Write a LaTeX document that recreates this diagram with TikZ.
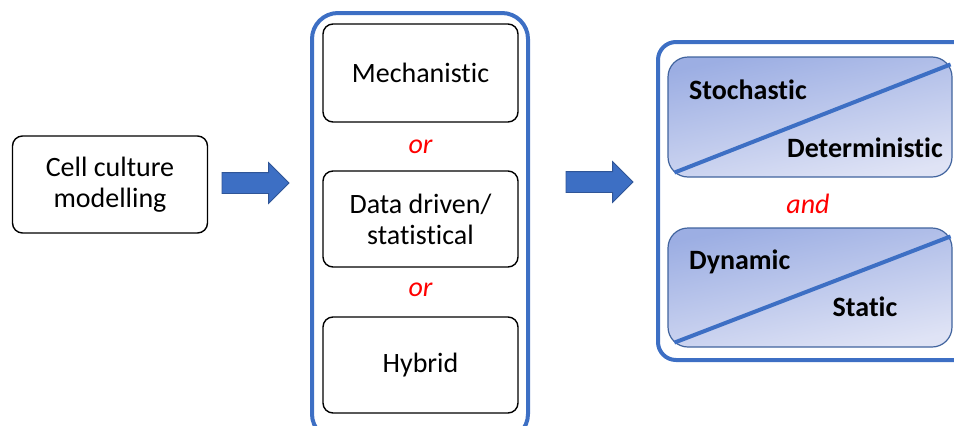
\documentclass[tikz,border=0pt]{standalone}
\usepackage{fontspec}
\setmainfont{Carlito}[Ligatures={NoCommon,NoDiscretionary,NoRare}]
\usetikzlibrary{shapes.arrows,calc}
\definecolor{cblue}{HTML}{3D6FC4}
\definecolor{aedge}{HTML}{2F5597}
\definecolor{gdark}{HTML}{9CAEE3}
\definecolor{glight}{HTML}{DFE3F5}
\definecolor{gedge}{HTML}{41649E}
\definecolor{orred}{HTML}{FF0000}
\tikzset{
  whitebox/.style={draw=black, line width=1.4pt, rounded corners=10pt, fill=white,
    minimum width=195pt, align=center, inner sep=0pt,
    font=\fontsize{28}{31}\selectfont},
  container/.style={draw=cblue, line width=4pt, rounded corners=26pt},
  bigarrow/.style={single arrow, draw=aedge, fill=cblue, line width=0.8pt,
    minimum height=67pt, single arrow head extend=10pt,
    single arrow tip angle=90, inner xsep=0pt, inner ysep=10pt, outer sep=0pt, anchor=tip},
  gradbox/.style={draw=gedge, line width=1.2pt, rounded corners=20pt,
    top color=gdark, bottom color=glight, shading angle=12,
    minimum width=284pt, minimum height=120pt, inner sep=0pt},
  diag/.style={draw=cblue, line width=4pt},
  conj/.style={text=orred, font=\fontsize{28}{31}\selectfont\itshape, inner sep=0pt},
  blabel/.style={font=\fontsize{28}{31}\selectfont\bfseries, inner sep=0pt},
}
\begin{document}
\begin{tikzpicture}[x=1pt,y=-1pt]
\useasboundingbox (0,0) rectangle (954,426);
\clip (0,0) rectangle (954,426);
% left
\node[whitebox, minimum height=97pt] (cell) at (110,184.5) {Cell culture\\modelling};
\node[bigarrow] (a1) at (289,183) {};
% middle group
\draw[container] (312,13) rectangle (528,440);
\node[whitebox, minimum height=98pt] (mech) at (420.5,73) {Mechanistic};
\node[conj] (or1) at (420.5,147) {or};
\node[whitebox, minimum height=96pt] (data) at (420.5,219) {Data driven/\\statistical};
\node[conj] (or2) at (420.5,290) {or};
\node[whitebox, minimum height=96pt] (hyb) at (420.5,365) {Hybrid};
\node[bigarrow] (a2) at (633,182) {};
% right group
\draw[container, rounded corners=18pt] (658,42) rectangle (985,360);
\node[gradbox] (sd) at (810,117) {};
\draw[diag] ($(sd.south west)+(7,-5)$) -- ($(sd.north east)+(-2,8)$);
\node[blabel, anchor=west] (stoch) at (689,90) {Stochastic};
\node[blabel, anchor=east] (det) at (943,148) {Deterministic};
\node[conj] (and) at (808,204) {and};
\node[gradbox, minimum height=119pt] (ds) at (810,287.5) {};
\draw[diag] ($(ds.south west)+(7,-5)$) -- ($(ds.north east)+(-2,9)$);
\node[blabel, anchor=west] (dyn) at (689,262) {Dynamic};
\node[blabel] (stat) at (865,307) {Static};
\end{tikzpicture}
\end{document}
